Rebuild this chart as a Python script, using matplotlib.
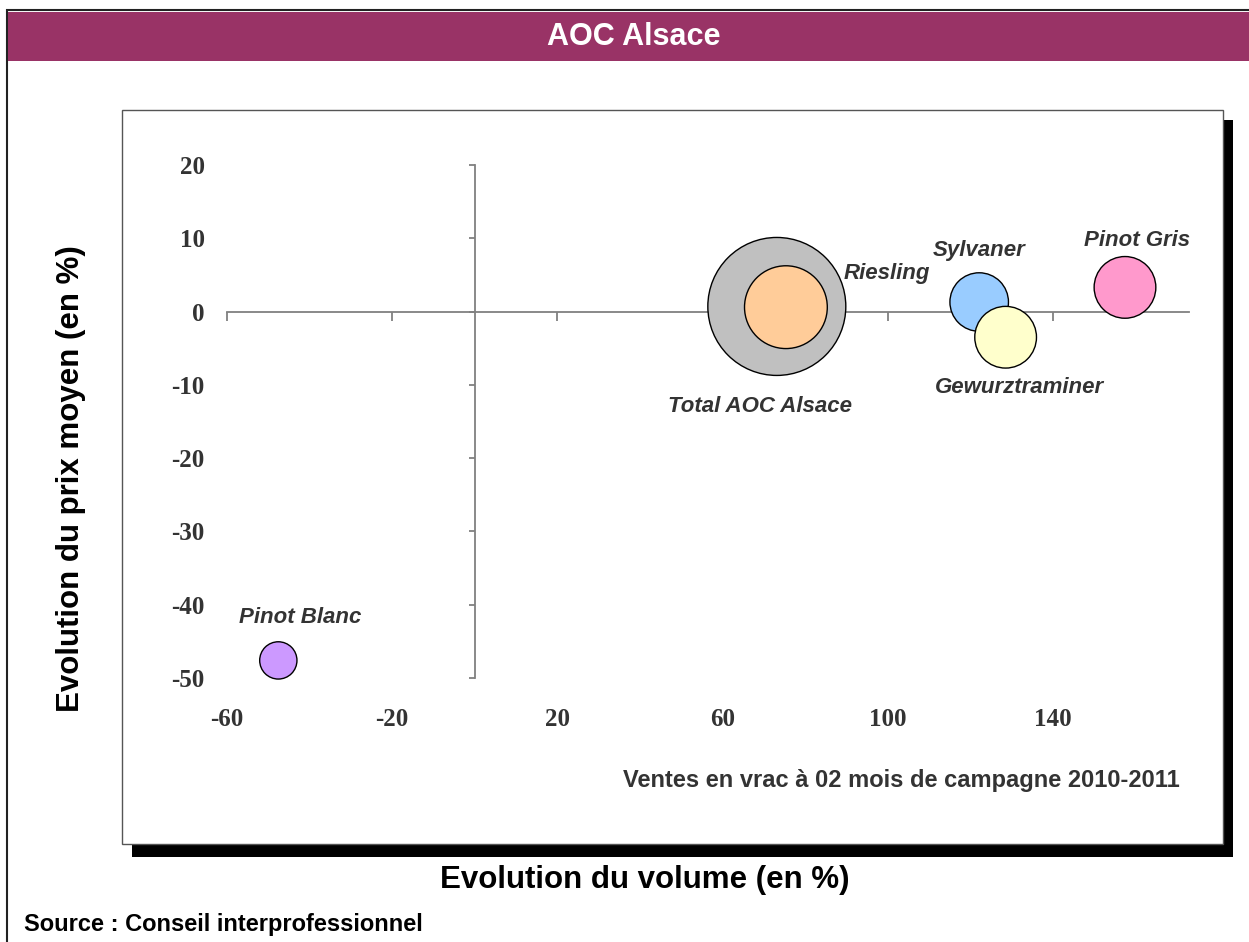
import matplotlib.pyplot as plt
import numpy as np
from matplotlib.patches import Rectangle

plt.rcParams["font.family"] = ["Liberation Sans", "DejaVu Sans"]

# Data
cepages = ["Total AOC Alsace", "Riesling", "Sylvaner", "Gewurztraminer", "Pinot Gris", "Pinot Blanc"]
evol_volume = [73.2, 75.4, 122.2, 128.6, 157.5, -47.5]  # %
evol_prix = [0.7, 0.6, 1.3, -3.5, 3.3, -47.6]  # %
volume_relatif = [100, 36, 18, 20, 20, 7.3]  # bubble size, relative
couleurs = ["#C0C0C0", "#FFCC99", "#99CCFF", "#FFFFCC", "#FF99CC", "#CC99FF"]
# label offsets in points, relative to the bubble centre
label_offsets = [(-12, -72), (73, 24), (0, 37), (10, -36), (9, 34), (16, 31)]

x_ticks = [-60, -20, 20, 60, 100, 140]
x_tick_labels = ["-60", "-20", "20", "60", "100", "140"]
y_ticks = [-50, -40, -30, -20, -10, 0, 10, 20]
y_tick_labels = ["-50", "-40", "-30", "-20", "-10", "0", "10", "20"]

W, H = 1249, 942
fig = plt.figure(figsize=(W / 100, H / 100), dpi=100)


def px_rect(x0, y0, x1, y1, **kw):
    """Rectangle given in pixels, origin at top-left of the figure."""
    return Rectangle(
        (x0 / W, 1 - y1 / H), (x1 - x0) / W, (y1 - y0) / H,
        transform=fig.transFigure, **kw
    )


# Outer frame and title band
fig.add_artist(px_rect(7, 10, 1262, 960, facecolor="white", edgecolor="#222222", lw=1.5, zorder=0))
fig.add_artist(px_rect(8, 12, 1262, 61, facecolor="#993366", edgecolor="none", zorder=0.1))
fig.text(634 / W, 1 - 37 / H, "AOC Alsace", color="white", fontsize=22,
         fontweight="bold", ha="center", va="center")

# Plot box with drop shadow
fig.add_artist(px_rect(132, 120, 1233, 857, facecolor="black", edgecolor="none", zorder=0.2))
fig.add_artist(px_rect(122, 110, 1223, 844, facecolor="white", edgecolor="#555555", lw=1, zorder=0.3))

ax = fig.add_axes([226.7 / W, 1 - 678 / H, (1189 - 226.7) / W, (678 - 165) / H])
ax.set_zorder(2)
ax.patch.set_visible(False)
ax.set_xlim(-60, 173)
ax.set_ylim(-50, 20)

ax.spines["top"].set_visible(False)
ax.spines["right"].set_visible(False)
ax.spines["left"].set_position("zero")
ax.spines["bottom"].set_position("zero")
for side in ["left", "bottom"]:
    ax.spines[side].set_color("#808080")
    ax.spines[side].set_linewidth(1.3)

ax.set_xticks(x_ticks)
ax.set_xticklabels(x_tick_labels, fontfamily="Liberation Serif", fontweight="bold")
ax.set_yticks(y_ticks)
ax.set_yticklabels(y_tick_labels, fontfamily="Liberation Serif", fontweight="bold")
# labels sit at the low end of the chart, away from the crossing axes
ax.tick_params(axis="x", direction="out", length=6.5, width=1.3, color="#808080",
               pad=279, labelsize=18, labelcolor="#333333")
ax.tick_params(axis="y", direction="out", length=4.3, width=1.3, color="#808080",
               pad=190, labelsize=18, labelcolor="#333333")

ax.scatter(evol_volume, evol_prix, s=np.array(volume_relatif) * 98.7, c=couleurs,
           edgecolors="black", linewidths=1, zorder=3, clip_on=False)

for name, x, y, off in zip(cepages, evol_volume, evol_prix, label_offsets):
    ax.annotate(name, (x, y), xytext=off, textcoords="offset points",
                ha="center", va="center", fontsize=16, fontweight="bold",
                fontstyle="italic", color="#333333")

ax.text(0.99, -0.2, "Ventes en vrac à 02 mois de campagne 2010-2011",
        transform=ax.transAxes, ha="right", va="center", fontsize=17,
        fontweight="bold", color="#333333")

fig.text(645 / W, 1 - 880 / H, "Evolution du volume (en %)", fontsize=22.5,
         fontweight="bold", ha="center", va="center")
fig.text(71 / W, 1 - 479 / H, "Evolution du prix moyen (en %)", fontsize=22.5,
         fontweight="bold", ha="center", va="center", rotation=90)
fig.text(24 / W, 1 - 925 / H, "Source : Conseil interprofessionnel", fontsize=17,
         fontweight="bold", ha="left", va="center")

fig.savefig("out.png", dpi=100)
